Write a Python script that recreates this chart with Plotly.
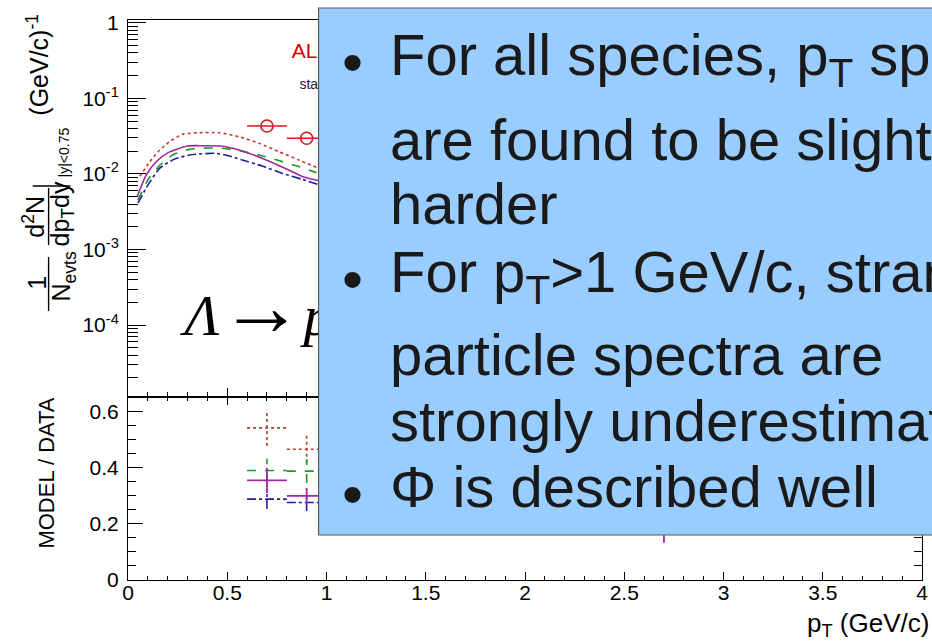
import plotly.graph_objects as go

# ---------------- data ----------------
# model curves (top panel), pT in GeV/c and yield
red_pt = [0.06, 0.11, 0.16, 0.21, 0.275, 0.36, 0.46, 0.56, 0.66, 0.76, 0.86, 0.95]
red_y = [0.0093, 0.0145, 0.0207, 0.0267, 0.0334, 0.0351, 0.0351, 0.0310, 0.0254, 0.0197, 0.0153, 0.0122]

green_pt = [0.05, 0.10, 0.16, 0.225, 0.31, 0.44, 0.54, 0.66, 0.76, 0.86, 0.95]
green_y = [0.0045, 0.0083, 0.0130, 0.0178, 0.0211, 0.0222, 0.0207, 0.0178, 0.0150, 0.0125, 0.0104]

mag_pt = [0.046, 0.092, 0.142, 0.20, 0.30, 0.38, 0.467, 0.559, 0.675, 0.79, 0.89, 0.96]
mag_y = [0.0050, 0.0097, 0.0145, 0.0190, 0.0234, 0.0236, 0.0234, 0.0207, 0.0161, 0.0119, 0.0090, 0.0081]

blue_pt = [0.05, 0.10, 0.16, 0.234, 0.31, 0.44, 0.51, 0.576, 0.676, 0.776, 0.876, 0.954]
blue_y = [0.0041, 0.0071, 0.0119, 0.0157, 0.0178, 0.0187, 0.0173, 0.0153, 0.0127, 0.0102, 0.0085, 0.0073]

# data points (top panel)
data_pt = [0.7, 0.9]
data_y = [0.043, 0.0296]
data_xerr = [0.1, 0.1]

# model / data ratios (bottom panel)
r_red_pt, r_red_y, r_red_xe, r_red_ye = [0.7, 0.9], [0.542, 0.466], [0.1, 0.1], [0.065, 0.048]
r_green_pt, r_green_y, r_green_xe, r_green_ye = [0.7, 0.9], [0.390, 0.388], [0.1, 0.1], [0.042, 0.042]
r_mag_pt, r_mag_y, r_mag_xe, r_mag_ye = [0.7, 0.9, 2.7], [0.355, 0.300, 0.200], [0.1, 0.1, 0.2], [0.045, 0.028, 0.067]
r_blue_pt, r_blue_y, r_blue_xe, r_blue_ye = [0.7, 0.9], [0.288, 0.276], [0.1, 0.1], [0.035, 0.030]

x_ticks = [0, 0.5, 1, 1.5, 2, 2.5, 3, 3.5, 4]
x_tick_text = ["0", "0.5", "1", "1.5", "2", "2.5", "3", "3.5", "4"]
top_ticks = [1e-4, 1e-3, 1e-2, 1e-1, 1]
top_tick_text = ["10<sup>-4</sup>", "10<sup>-3</sup>", "10<sup>-2</sup>", "10<sup>-1</sup>", "1"]
bot_ticks = [0, 0.2, 0.4, 0.6]
bot_tick_text = ["0", "0.2", "0.4", "0.6"]

bullets = [
    ("For all species, p<sub>T</sub> spectra", True),
    ("are found to be slightly", False),
    ("harder", False),
    ("For p<sub>T</sub>>1 GeV/c, strange", True),
    ("particle spectra are", False),
    ("strongly underestimated", False),
    ("Φ is described well", True),
]

# ---------------- layout helpers ----------------
W, H = 932, 642
ML, MR, MT, MB = 128, 4, 20, 62
PW, PH = W - ML - MR, H - MT - MB


def px(x):
    return (x - ML) / PW


def py(y):
    return (H - MB - y) / PH


split = py(397)
FONT = "Liberation Sans, Arial, sans-serif"

RED = "#d41a1a"
REDL = "#c0392b"
GREEN = "#1a9a1a"
MAG = "#a0289c"
BLUE = "#1c1c9c"

fig = go.Figure()

# top panel curves
for xs, ys, col, dash, w in [
    (red_pt, red_y, REDL, "dot", 1.6),
    (green_pt, green_y, GREEN, "dash", 1.6),
    (blue_pt, blue_y, BLUE, "dashdot", 1.6),
    (mag_pt, mag_y, MAG, "solid", 1.6),
]:
    fig.add_trace(go.Scatter(x=xs, y=ys, mode="lines", xaxis="x2", yaxis="y2",
                             line=dict(color=col, dash=dash, width=w, shape="spline", smoothing=0.6),
                             showlegend=False, hoverinfo="skip"))

fig.add_trace(go.Scatter(x=data_pt, y=data_y, mode="markers", xaxis="x2", yaxis="y2",
                         marker=dict(symbol="circle-open", size=12, color=RED, line=dict(width=1.6, color=RED)),
                         error_x=dict(type="data", array=data_xerr, width=0, thickness=1.6, color=RED),
                         showlegend=False, hoverinfo="skip"))

# texts inside the top panel (drawn under the overlay box)
fig.add_trace(go.Scatter(x=[0.825], y=[0.397], mode="text", xaxis="x2", yaxis="y2",
                         text=["ALICE Performance"], textposition="middle right",
                         textfont=dict(family=FONT, size=21, color="#d40000"),
                         showlegend=False, hoverinfo="skip"))
fig.add_trace(go.Scatter(x=[0.8635], y=[0.15], mode="text", xaxis="x2", yaxis="y2",
                         text=["stat. errors only"], textposition="middle right",
                         textfont=dict(family=FONT, size=14, color="#222222"),
                         showlegend=False, hoverinfo="skip"))
fig.add_trace(go.Scatter(x=[0.285], y=[1.15e-4], mode="text", xaxis="x2", yaxis="y2",
                         text=["<i>Λ</i><span style='font-size:84px'>→</span><i>p</i>π⁻"],
                         textposition="middle right",
                         textfont=dict(family="Liberation Serif, Times New Roman, serif", size=58, color="black"),
                         showlegend=False, hoverinfo="skip"))


# ratio crosses
def cross(xs, ys, xe, ye):
    cx, cy = [], []
    for x, y, a, b in zip(xs, ys, xe, ye):
        cx += [x - a, x + a, None, x, x, None]
        cy += [y, y, None, y - b, y + b, None]
    return cx, cy


for xs, ys, xe, ye, col, dash, w in [
    (r_red_pt, r_red_y, r_red_xe, r_red_ye, REDL, "dot", 1.6),
    (r_green_pt, r_green_y, r_green_xe, r_green_ye, GREEN, "dash", 1.6),
    (r_blue_pt, r_blue_y, r_blue_xe, r_blue_ye, BLUE, "dashdot", 1.6),
    (r_mag_pt, r_mag_y, r_mag_xe, r_mag_ye, MAG, "solid", 1.8),
]:
    cx, cy = cross(xs, ys, xe, ye)
    fig.add_trace(go.Scatter(x=cx, y=cy, mode="lines", xaxis="x", yaxis="y",
                             line=dict(color=col, dash=dash, width=w),
                             showlegend=False, hoverinfo="skip", connectgaps=False))

axis_common = dict(showline=True, linecolor="black", linewidth=1,
                   ticks="inside", tickcolor="black", showgrid=False, zeroline=False,
                   ticklabeloverflow="allow",
                   tickfont=dict(family=FONT, size=21, color="black"))

minor_top = [k * 10 ** e for e in range(-5, 0) for k in range(2, 10)]

fig.update_layout(
    width=W, height=H,
    margin=dict(l=ML, r=MR, t=MT, b=MB),
    paper_bgcolor="white", plot_bgcolor="white",
    showlegend=False,
    xaxis=dict(anchor="y", domain=[0, 1], range=[0, 4], tickmode="array", tickvals=x_ticks,
               ticktext=x_tick_text, ticklen=8, mirror="allticks", ticklabelstandoff=-6,
               minor=dict(ticks="inside", dtick=0.1, tick0=0, ticklen=4, tickcolor="black", showgrid=False),
               **axis_common),
    xaxis2=dict(anchor="y2", domain=[0, 1], range=[0, 4], matches="x", tickmode="array", tickvals=x_ticks,
                showticklabels=False, ticklen=9, mirror=True,
                minor=dict(ticks="inside", dtick=0.1, tick0=0, ticklen=5, tickcolor="black", showgrid=False),
                **axis_common),
    yaxis=dict(anchor="x", domain=[0, split], range=[0, 0.652], tickmode="array", tickvals=bot_ticks,
               ticktext=bot_tick_text, ticklen=15, mirror="allticks", ticklabelstandoff=4,
               minor=dict(ticks="inside", dtick=0.05, tick0=0, ticklen=8, tickcolor="black", showgrid=False),
               **axis_common),
    yaxis2=dict(anchor="x2", domain=[split, 1], type="log", range=[-4.951, 0.036], tickmode="array",
                tickvals=top_ticks, ticktext=top_tick_text, ticklen=18, mirror="allticks", ticklabelstandoff=4,
                minor=dict(ticks="inside", tickmode="array", tickvals=minor_top, ticklen=10,
                           tickcolor="black", showgrid=False),
                **axis_common),
)

shapes = []
annotations = []

# overlay box
shapes.append(dict(type="rect", xref="paper", yref="paper", x0=px(320), x1=px(940), y0=py(535), y1=py(8),
                   fillcolor="#99ccff", line=dict(color="#5a5a5a", width=1.2), layer="above"))

# bullet text lines
baselines = [73, 158, 222, 290, 373, 439, 505]
TS = 58
for (txt, has_bullet), bl in zip(bullets, baselines):
    annotations.append(dict(xref="paper", yref="paper", x=px(390), y=py(bl - 0.905 * TS - 1),
                            xanchor="left", yanchor="top", showarrow=False, text=txt,
                            font=dict(family=FONT, size=TS, color="#1a1a1a")))
    if has_bullet:
        annotations.append(dict(xref="paper", yref="paper", x=px(354), y=py(bl - 10.5),
                                xanchor="center", yanchor="middle", showarrow=False, text="•",
                                font=dict(family=FONT, size=60, color="#1a1a1a")))

# y-axis title of top panel (pieces, rotated)
TF = 25
ytitle = [
    ("1", 36, 283, TF),
    ("N<sub>evts</sub>", 63, 276, TF),
    ("d<sup>2</sup>N", 33, 217, TF),
    ("dp<sub>T</sub>dy", 61, 214, TF),
    ("|y|<0.75", 64, 152, 14),
    ("(GeV/c)<sup>-1</sup>", 37, 65, TF),
]
for txt, x, y, s in ytitle:
    annotations.append(dict(xref="paper", yref="paper", x=px(x), y=py(y), xanchor="center", yanchor="middle",
                            showarrow=False, text=txt, textangle=-90,
                            font=dict(family=FONT, size=s, color="black")))
for x, ya, yb in [(48, 257, 311), (48, 188, 245)]:
    shapes.append(dict(type="line", xref="paper", yref="paper", x0=px(x), x1=px(x), y0=py(ya), y1=py(yb),
                       line=dict(color="black", width=1.4)))
shapes.append(dict(type="line", xref="paper", yref="paper", x0=px(32), x1=px(70), y0=py(186), y1=py(186),
                   line=dict(color="black", width=1.4)))

# bottom y title
annotations.append(dict(xref="paper", yref="paper", x=px(45), y=py(473), xanchor="center", yanchor="middle",
                        showarrow=False, text="MODEL / DATA", textangle=-90,
                        font=dict(family=FONT, size=22, color="black")))
# x title
annotations.append(dict(xref="paper", yref="paper", x=px(937), y=py(631 - 0.905 * 26 - 1), xanchor="right",
                        yanchor="top", showarrow=False, text="p<sub>T</sub> (GeV/c)",
                        font=dict(family=FONT, size=26, color="black")))

fig.update_layout(shapes=shapes, annotations=annotations)

fig.write_html("out.html", post_script="document.body.style.margin='0';")
